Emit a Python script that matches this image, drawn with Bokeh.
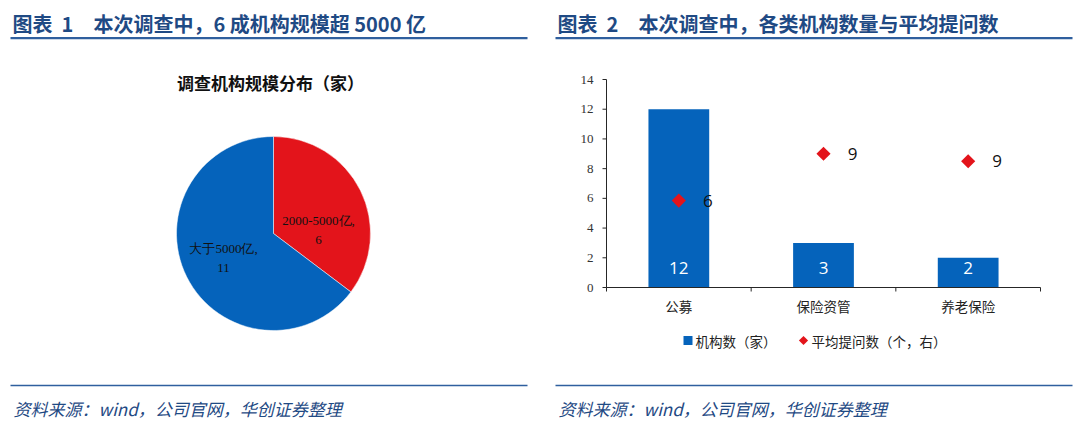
import math
from bokeh.plotting import figure
from bokeh.models import Range1d
from bokeh.core.properties import value
from bokeh.embed import file_html
from bokeh.resources import INLINE

# data
titles = ["图表\u00a0\u00a01\u3000本次调查中，6\u00a0成机构规模超\u00a05000\u00a0亿",
          "图表\u00a0\u00a02\u3000本次调查中，各类机构数量与平均提问数"]
source_note = "资料来源：wind，公司官网，华创证券整理"

pie_title = "调查机构规模分布（家）"
pie_names = ["2000-5000亿", "大于5000亿"]
pie_counts = [6, 11]

categories = ["公募", "保险资管", "养老保险"]
inst_counts = [12, 3, 2]
avg_questions = [5.85, 9.0, 8.5]
y_ticks = [0, 2, 4, 6, 8, 10, 12, 14]
legend_labels = ["机构数（家）", "平均提问数（个，右）"]

BLUE = "#0563BB"
RED = "#E3141B"
NAVY = "#1F4A84"
RULE = "#2F5F9E"
AXIS = "#262626"
CJK = "Noto Sans CJK SC"
SERIF = "Liberation Serif"
W, H = 1080, 426

# one canvas in pixel coordinates, origin bottom-left
p = figure(width=W, height=H, x_range=Range1d(0, W), y_range=Range1d(0, H),
           toolbar_location=None, output_backend="svg",
           x_axis_type=None, y_axis_type=None, min_border=0)
p.outline_line_color = None
p.background_fill_color = "white"
p.border_fill_color = "white"


def span(lo, hi, a, b, total):
    # range whose values a..b land on canvas pixels lo..hi
    k = (b - a) / (hi - lo)
    return Range1d(a - lo * k, b + (total - hi) * k), k


# panel frames: headers, rules, source notes
for t, x0, r0, r1 in zip(titles, [12, 557], [10, 555], [527, 1072]):
    p.text(x=[x0], y=[403.5], text=[t], text_font=value(CJK), text_font_style="bold",
           text_font_size="20px", text_color=NAVY, text_baseline="middle")
    p.segment(x0=[r0], y0=[388.3], x1=[r1], y1=[388.3], line_color=RULE, line_width=2.2)
    p.segment(x0=[r0], y0=[41], x1=[r1], y1=[41], line_color=RULE, line_width=1.6)
    p.text(x=[x0 + 1], y=[18.5], text=[source_note], text_font=value(CJK),
           text_font_style="italic", text_font_size="17px", text_color=NAVY,
           text_baseline="middle")

# ---- pie ----
cx, cy, r = 273, 193, 97
p.text(x=[270], y=[344], text=[pie_title], text_font=value(CJK), text_font_style="bold",
       text_font_size="17px", text_color="#111111", text_align="center",
       text_baseline="middle")
total = sum(pie_counts)
starts, ends, a = [], [], math.pi / 2
for c in pie_counts:
    starts.append(a)
    a -= 2 * math.pi * c / total
    ends.append(a)
p.wedge(x=cx, y=cy, radius=r, start_angle=starts, end_angle=ends, direction="clock",
        fill_color=[RED, BLUE], line_color="white", line_width=0.5)
label_xy = [(318, 197), (223, 169)]
for (lx, ly), n, c in zip(label_xy, pie_names, pie_counts):
    p.text(x=[lx, lx], y=[ly, ly], text=[n + ",", str(c)], y_offset=[-9, 10],
           text_font=value(SERIF), text_font_size="13px", text_color="#111111",
           text_align="center", text_baseline="middle")

# ---- bar + diamond chart ----
p.extra_x_ranges["bx"], kx = span(606, 1040, 0, len(categories), W)
p.extra_y_ranges["by"], ky = span(139, 347, 0, 14, H)
ax = dict(x_range_name="bx", y_range_name="by")
xs = [i + 0.5 for i in range(len(categories))]

p.vbar(x=xs, top=inst_counts, width=0.42, fill_color=BLUE, line_color=None, **ax)
p.text(x=xs, y=[0] * len(xs), text=[str(c) for c in inst_counts], y_offset=-20,
       text_font=value("Open Sans"), text_font_size="17px", text_color="white",
       text_align="center", text_baseline="middle", **ax)
p.scatter(x=xs, y=avg_questions, marker="square", angle=math.pi / 4, size=10,
          fill_color=RED, line_color=None, **ax)
p.text(x=xs, y=avg_questions, text=[str(math.floor(v + 0.5)) for v in avg_questions],
       x_offset=29, text_font=value("Open Sans"), text_font_size="17px",
       text_color="#111111", text_align="center", text_baseline="middle", **ax)

# axes
n = len(categories)
p.segment(x0=[0, 0], y0=[0, 0], x1=[n, 0], y1=[0, y_ticks[-1]], line_color=AXIS, line_width=1, **ax)
p.segment(x0=[-4 * kx] * len(y_ticks), y0=y_ticks, x1=[0] * len(y_ticks), y1=y_ticks,
          line_color=AXIS, line_width=1, **ax)
p.text(x=[0] * len(y_ticks), y=y_ticks, text=[str(t) for t in y_ticks], x_offset=-13,
       text_font=value(SERIF), text_font_size="13px", text_color="#333333",
       text_align="right", text_baseline="middle", **ax)
bounds = list(range(n + 1))
p.segment(x0=bounds, y0=[0] * len(bounds), x1=bounds, y1=[-4 * ky] * len(bounds),
          line_color=AXIS, line_width=1, **ax)
p.text(x=xs, y=[0] * n, text=categories, y_offset=18, text_font=value(CJK),
       text_font_size="13.5px", text_color="#222222", text_align="center",
       text_baseline="middle", **ax)

# legend keys and labels
p.scatter(x=[687.5, 803], y=[86, 86], marker="square", angle=[0, math.pi / 4],
          size=[9, 6.5], fill_color=[BLUE, RED], line_color=None)
p.text(x=[695, 811], y=[86, 86], text=legend_labels, text_font=value(CJK),
       text_font_size="13.5px", text_color="#222222", text_baseline="middle")

open("out.html", "w").write(file_html(p, INLINE))
